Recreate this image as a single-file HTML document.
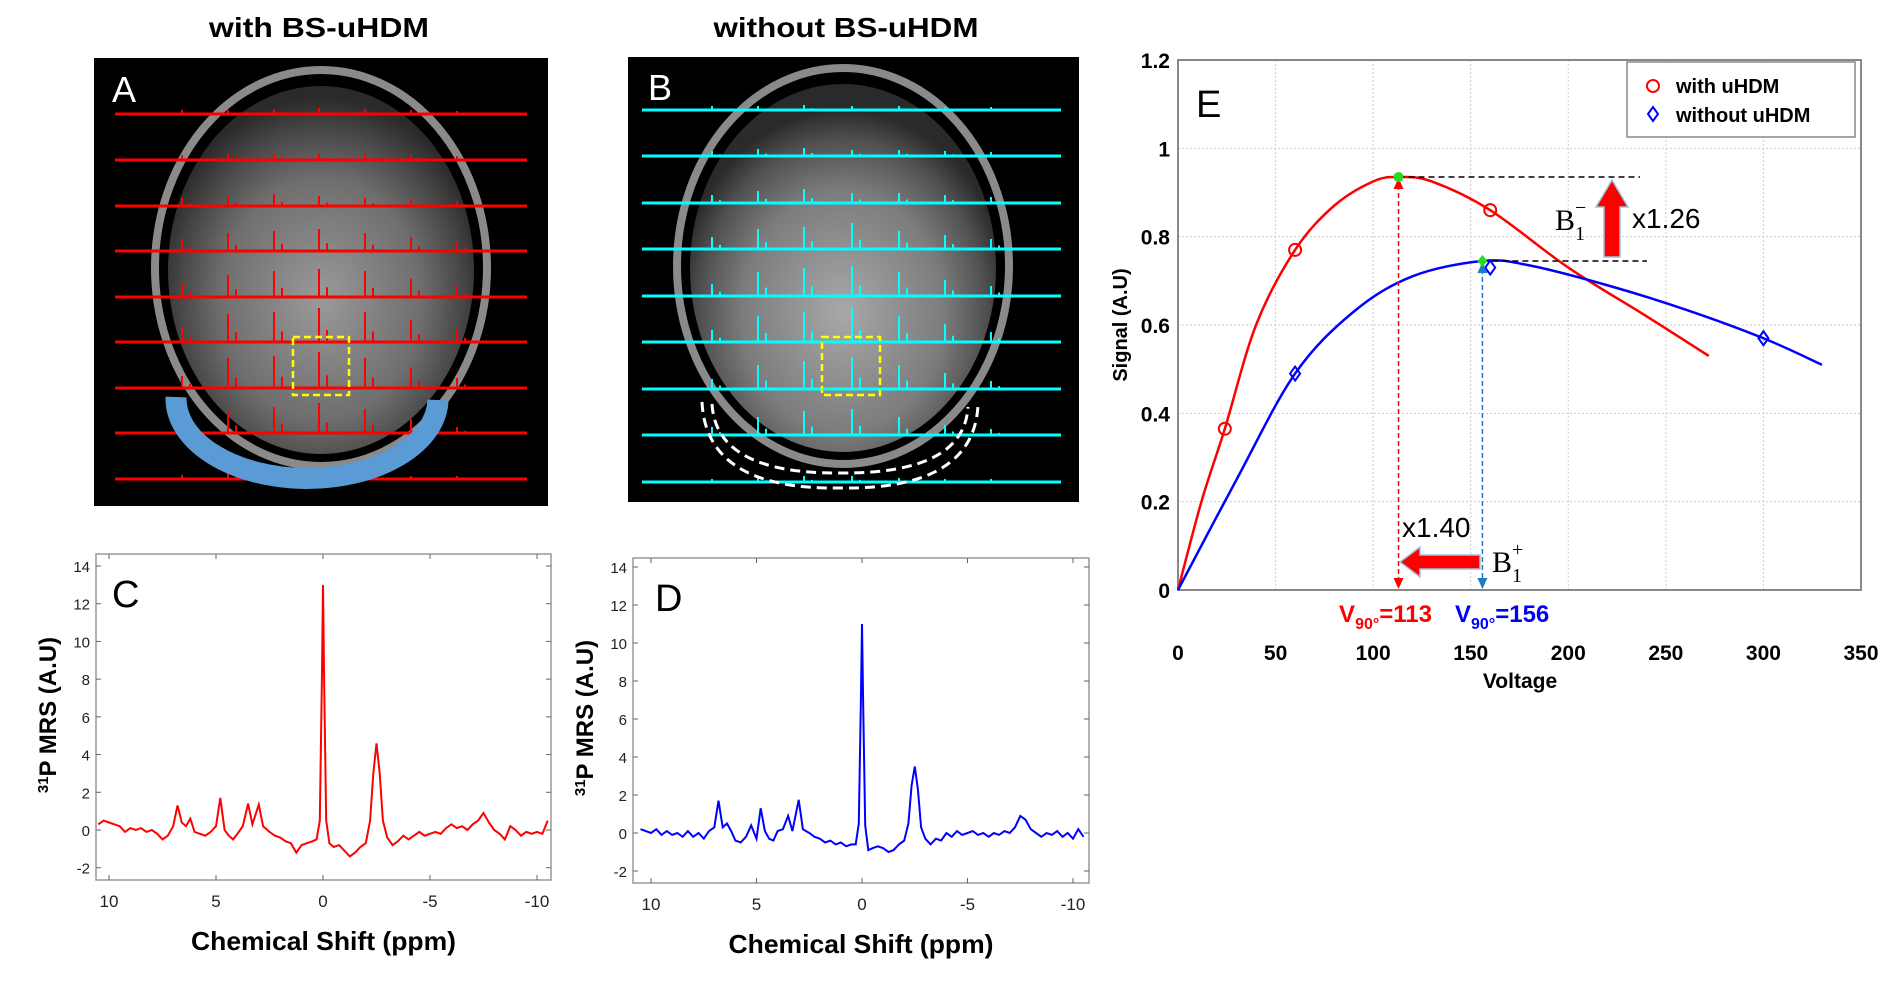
<!DOCTYPE html>
<html><head><meta charset="utf-8"><style>
html,body{margin:0;padding:0;background:#fff;width:1898px;height:1000px;overflow:hidden}
svg{display:block}
text{font-family:"Liberation Sans",sans-serif}
.nar{font-family:"Liberation Sans Narrow","Liberation Sans",sans-serif}
.serif{font-family:"Liberation Serif",serif}
</style></head><body>
<svg id="fig" width="1898" height="1000" viewBox="0 0 1898 1000" xmlns="http://www.w3.org/2000/svg">
<defs>
<radialGradient id="brainA" cx="50%" cy="58%" r="55%">
<stop offset="0" stop-color="#9a9a9a"/><stop offset="0.6" stop-color="#6e6e6e"/><stop offset="0.85" stop-color="#454545"/><stop offset="1" stop-color="#2a2a2a"/></radialGradient>
<radialGradient id="brainB" cx="50%" cy="62%" r="55%">
<stop offset="0" stop-color="#a8a8a8"/><stop offset="0.6" stop-color="#7c7c7c"/><stop offset="0.85" stop-color="#505050"/><stop offset="1" stop-color="#2a2a2a"/></radialGradient>
</defs>

<!-- Panel A -->
<text class="nar" x="319" y="37" text-anchor="middle" font-size="28" font-weight="bold" textLength="220" lengthAdjust="spacingAndGlyphs">with BS-uHDM</text>
<g>
<rect x="94" y="58" width="454" height="448" fill="#000"/>
<ellipse cx="321" cy="268" rx="166" ry="198" fill="none" stroke="#8a8a8a" stroke-width="8"/>
<ellipse cx="321" cy="270" rx="153" ry="184" fill="url(#brainA)"/>
<text x="112" y="102" font-size="36" fill="#fff" class="nar">A</text>
<g id="tracesA"></g>
<rect x="293" y="337" width="56" height="58" fill="none" stroke="#ffff00" stroke-width="2.5" stroke-dasharray="7,4"/>
<path d="M176 397 A131 80 0 0 0 438 400" fill="none" stroke="#5b9bd5" stroke-width="21"/>
</g>

<!-- Panel B -->
<text class="nar" x="846" y="37" text-anchor="middle" font-size="28" font-weight="bold" textLength="265" lengthAdjust="spacingAndGlyphs">without BS-uHDM</text>
<g>
<rect x="628" y="57" width="451" height="445" fill="#000"/>
<ellipse cx="843" cy="266" rx="166" ry="198" fill="none" stroke="#8a8a8a" stroke-width="8"/>
<ellipse cx="843" cy="268" rx="153" ry="184" fill="url(#brainB)"/>
<text x="648" y="100" font-size="36" fill="#fff" class="nar">B</text>
<g id="tracesB"></g>
<rect x="822" y="337" width="58" height="58" fill="none" stroke="#ffff00" stroke-width="2.5" stroke-dasharray="7,4"/>
<path d="M702 402 Q706 490 840 488 Q974 490 978 405" fill="none" stroke="#fff" stroke-width="3" stroke-dasharray="10,6"/>
<path d="M712 404 Q716 474 840 473 Q964 474 968 407" fill="none" stroke="#fff" stroke-width="3" stroke-dasharray="10,6"/>
</g>

<g id="panelC"></g>
<g id="panelD"></g>
<g id="panelE"></g>
</svg>
<script>
// ---------- data ----------
const spikeA=[[4,4,5,6,5,4,3],[5,6,7,6,6,5,4],[8,10,12,10,8,6,5],[12,18,20,22,18,14,10],[14,22,26,28,26,18,12],[14,28,30,34,30,22,12],[12,30,32,36,30,20,10],[8,22,26,30,24,14,6],[4,6,8,6,4,3,3]];
const spikeB=[[4,4,5,4,4,3,3],[5,7,8,6,6,5,4],[8,12,14,10,10,8,6],[12,20,22,26,18,14,10],[12,24,28,30,24,16,10],[12,26,30,34,26,18,10],[10,24,28,32,24,16,8],[8,18,24,26,18,10,6],[3,5,6,6,4,3,3]];

const ppmC=[10.5,10.25,10,9.75,9.5,9.25,9,8.75,8.5,8.25,8,7.75,7.5,7.25,7.0,6.8,6.6,6.4,6.2,6.0,5.75,5.5,5.25,5.0,4.8,4.6,4.4,4.2,4.0,3.75,3.5,3.3,3.0,2.8,2.5,2.25,2.0,1.75,1.5,1.25,1.0,0.75,0.5,0.3,0.15,0.05,0,-0.05,-0.15,-0.3,-0.5,-0.75,-1.0,-1.25,-1.5,-1.75,-2.0,-2.2,-2.35,-2.5,-2.65,-2.8,-3.0,-3.25,-3.5,-3.75,-4.0,-4.25,-4.5,-4.75,-5.0,-5.25,-5.5,-5.75,-6.0,-6.25,-6.5,-6.75,-7.0,-7.25,-7.5,-7.75,-8.0,-8.25,-8.5,-8.75,-9.0,-9.25,-9.5,-9.75,-10.0,-10.25,-10.5];
const sigC=[0.3,0.5,0.4,0.3,0.2,-0.1,0.1,0.0,0.1,-0.1,0.0,-0.2,-0.5,-0.3,0.2,1.3,0.4,0.2,0.6,-0.1,-0.2,-0.3,-0.1,0.2,1.7,0.0,-0.3,-0.5,-0.2,0.2,1.4,0.3,1.35,0.2,-0.1,-0.3,-0.4,-0.6,-0.7,-1.2,-0.8,-0.7,-0.6,-0.5,0.5,8,13,8,0.5,-0.7,-0.9,-0.8,-1.1,-1.4,-1.2,-0.9,-0.7,0.5,3,4.6,3,0.5,-0.4,-0.8,-0.6,-0.3,-0.5,-0.3,-0.1,-0.3,-0.2,-0.1,-0.2,0.1,0.3,0.1,0.2,0.0,0.3,0.5,0.9,0.4,0.0,-0.2,-0.5,0.2,0.0,-0.3,-0.1,-0.2,-0.1,-0.2,0.5];
const sigD=[0.2,0.1,0.0,0.2,-0.1,0.1,-0.1,0.0,-0.2,0.1,-0.2,0.0,-0.3,0.1,0.3,1.7,0.3,0.5,0.1,-0.4,-0.5,-0.2,0.4,-0.3,1.3,0.1,-0.3,-0.4,0.1,0.2,0.9,0.1,1.75,0.2,0.0,-0.2,-0.3,-0.5,-0.4,-0.6,-0.5,-0.7,-0.6,-0.6,0.5,7,11,7,0.4,-0.9,-0.8,-0.7,-0.8,-1.0,-0.9,-0.6,-0.4,0.5,2.5,3.5,2.3,0.3,-0.3,-0.6,-0.3,-0.4,0.0,-0.2,0.1,-0.1,0.0,0.1,-0.1,0.0,-0.2,0.0,-0.1,0.1,0.0,0.3,0.9,0.7,0.2,0.0,-0.2,0.0,-0.1,0.1,-0.2,0.0,-0.3,0.2,-0.2];
const specTicksX=[10,5,0,-5,-10];
const specTicksY=[-2,0,2,4,6,8,10,12,14];

const voltRedX=[0,12,24,40,60,80,100,113,130,160,200,240,272];
const voltRedY=[0,0.2,0.365,0.6,0.77,0.87,0.925,0.935,0.925,0.86,0.73,0.62,0.53];
const voltBlueX=[0,30,60,90,120,156,180,220,260,300,330];
const voltBlueY=[0,0.25,0.49,0.63,0.71,0.745,0.735,0.69,0.635,0.57,0.51];
const redMarkX=[24,60,160];
const redMarkY=[0.365,0.77,0.86];
const blueMarkX=[60,160,300];
const blueMarkY=[0.49,0.73,0.57];
const peakRed=[113,0.935];
const peakBlue=[156,0.745];
const eTicksX=[0,50,100,150,200,250,300,350];
const eTicksY=[0,0.2,0.4,0.6,0.8,1,1.2];

const NS='http://www.w3.org/2000/svg';
function mk(tag,attrs,parent){const e=document.createElementNS(NS,tag);for(const k in attrs)e.setAttribute(k,attrs[k]);parent.appendChild(e);return e;}

// ---------- traces on MR images ----------
function traces(g,spikes,x0,x1,rows,cols,color){
  rows.forEach((ry,ri)=>{
    const ln=mk('line',{x1:x0,x2:x1,y1:ry,y2:ry,stroke:color,'stroke-width':3},g);
    
    
    cols.forEach((cx,ci)=>{
      const h=spikes[ri][ci];
      const s=mk('line',{x1:cx,x2:cx,y1:ry,y2:ry-h,stroke:color,'stroke-width':2},g);
      
      
      const s2=mk('line',{x1:cx+8,x2:cx+8,y1:ry,y2:ry-h*0.35,stroke:color,'stroke-width':2},g);
      
      
    });
  });
}
traces(document.getElementById('tracesA'),spikeA,115,527,[114,160,206,251,297,342,388,433,479],[182,228,274,319,365,411,457],'#ff0000');
traces(document.getElementById('tracesB'),spikeB,642,1061,[110,156,203,249,296,342,389,435,482],[712,758,804,852,899,945,991],'#00ffff');

// ---------- spectra ----------
function spectrum(g,o,sig,color,label,name){
  const sx=v=>o.xz+(o.xm10-o.xz)*(-v)/10;
  const sy=v=>o.yz+(o.y14-o.yz)*v/14;
  const box=mk('rect',{x:o.L,y:o.T,width:o.R-o.L,height:o.B-o.T,fill:'#fff',stroke:'#999','stroke-width':1.5},g);
  
  
  specTicksX.forEach(t=>{
    const x=sx(t);
    mk('line',{x1:x,x2:x,y1:o.B,y2:o.B-5,stroke:'#666'},g);
    mk('line',{x1:x,x2:x,y1:o.T,y2:o.T+5,stroke:'#666'},g);
    const tx=mk('text',{x:x,y:o.B+27,'text-anchor':'middle','font-size':17,fill:'#222',class:'nar'},g);
    tx.textContent=String(t);
    
    
  });
  specTicksY.forEach(t=>{
    const y=sy(t);
    mk('line',{x1:o.L,x2:o.L+5,y1:y,y2:y,stroke:'#666'},g);
    mk('line',{x1:o.R,x2:o.R-5,y1:y,y2:y,stroke:'#666'},g);
    const tx=mk('text',{x:o.L-6,y:y+6,'text-anchor':'end','font-size':15,fill:'#222',class:'nar'},g);
    tx.textContent=String(t);
    
    
  });
  const pts=ppmC.map((p,i)=>sx(p).toFixed(1)+','+sy(sig[i]).toFixed(1)).join(' ');
  const pl=mk('polyline',{points:pts,fill:'none',stroke:color,'stroke-width':2},g);
  
  
  const lt=mk('text',{x:o.lx,y:o.ly,'font-size':38,fill:'#000',class:'nar'},g);
  lt.textContent=label;
  
  
  const xl=mk('text',{x:(o.L+o.R)/2,y:o.B+70,'text-anchor':'middle','font-size':26,'font-weight':'bold',class:'nar',textLength:265,lengthAdjust:'spacingAndGlyphs'},g);
  xl.textContent='Chemical Shift (ppm)';
  
  
  const yl=mk('text',{x:0,y:0,'text-anchor':'middle','font-size':24,'font-weight':'bold',transform:`translate(${o.L-40},${o.yz-115}) rotate(-90)`},g);
  yl.innerHTML='<tspan font-size="15" dy="-8">31</tspan><tspan dy="8">P MRS (A.U)</tspan>';
  
  
}
spectrum(document.getElementById('panelC'),{L:96,R:551,T:554,B:880,xz:323,xm10:537,yz:830,y14:566,lx:112,ly:607},sigC,'#ff0000','C','panel-c');
spectrum(document.getElementById('panelD'),{L:633,R:1089,T:558,B:883,xz:862,xm10:1073,yz:833,y14:567,lx:655,ly:611},sigD,'#0000ff','D','panel-d');

// ---------- panel E ----------
(function(){
  const g=document.getElementById('panelE');
  const L=1178,R=1861,T=60,B=590;
  const X=v=>L+(R-L)*v/350;
  const Y=v=>B-(B-T)*v/1.2;
  const bg=mk('rect',{x:L,y:T,width:R-L,height:B-T,fill:'#fff',stroke:'#888','stroke-width':2},g);
  
  
  eTicksX.forEach(t=>{
    const gl=mk('line',{x1:X(t),x2:X(t),y1:T,y2:B,stroke:'#ccc','stroke-dasharray':'2,2'},g);
    
    
    const tx=mk('text',{x:X(t),y:B+70,'text-anchor':'middle','font-size':21,'font-weight':'bold'},g);
    tx.textContent=String(t);
    
    
  });
  eTicksY.forEach(t=>{
    const gl=mk('line',{x1:L,x2:R,y1:Y(t),y2:Y(t),stroke:'#ccc','stroke-dasharray':'2,2'},g);
    
    
    const tx=mk('text',{x:L-8,y:Y(t)+8,'text-anchor':'end','font-size':21,'font-weight':'bold'},g);
    tx.textContent=String(t);
    
    
  });
  mk('rect',{x:L,y:T,width:R-L,height:B-T,fill:'none',stroke:'#888','stroke-width':2},g);
  function smooth(xs,ys){
    const p=xs.map((x,i)=>[X(x),Y(ys[i])]);
    let d='M'+p[0][0]+' '+p[0][1];
    for(let i=0;i<p.length-1;i++){
      const p0=p[Math.max(0,i-1)],p1=p[i],p2=p[i+1],p3=p[Math.min(p.length-1,i+2)];
      d+=` C${p1[0]+(p2[0]-p0[0])/6} ${p1[1]+(p2[1]-p0[1])/6} ${p2[0]-(p3[0]-p1[0])/6} ${p2[1]-(p3[1]-p1[1])/6} ${p2[0]} ${p2[1]}`;
    }
    return d;
  }
  const rc=mk('path',{d:smooth(voltRedX,voltRedY),fill:'none',stroke:'#ff0000','stroke-width':2.5},g);
  
  
  const bc=mk('path',{d:smooth(voltBlueX,voltBlueY),fill:'none',stroke:'#0000ff','stroke-width':2.5},g);
  
  
  redMarkX.forEach((x,i)=>{
    const c=mk('circle',{cx:X(x),cy:Y(redMarkY[i]),r:6,fill:'none',stroke:'#ff0000','stroke-width':2},g);
    
    
  });
  blueMarkX.forEach((x,i)=>{
    const cx=X(x),cy=Y(blueMarkY[i]);
    const c=mk('path',{d:`M${cx} ${cy-7} L${cx+5} ${cy} L${cx} ${cy+7} L${cx-5} ${cy} Z`,fill:'none',stroke:'#0000ff','stroke-width':2},g);
    
    
  });
  const h1=mk('line',{x1:X(peakRed[0]),x2:1640,y1:Y(peakRed[1]),y2:Y(peakRed[1]),stroke:'#000','stroke-width':1.5,'stroke-dasharray':'6,4'},g);
  
  
  const h2=mk('line',{x1:X(peakBlue[0]),x2:1647,y1:Y(peakBlue[1]),y2:Y(peakBlue[1]),stroke:'#000','stroke-width':1.5,'stroke-dasharray':'6,4'},g);
  
  
  function vArrow(x,ytop,col,name){
    const l=mk('line',{x1:x,x2:x,y1:ytop+8,y2:B-8,stroke:col,'stroke-width':1.5,'stroke-dasharray':'5,3'},g);
    
    
    mk('path',{d:`M${x-5} ${ytop+12} L${x} ${ytop+1} L${x+5} ${ytop+12}Z`,fill:col},g);
    mk('path',{d:`M${x-5} ${B-12} L${x} ${B-1} L${x+5} ${B-12}Z`,fill:col},g);
  }
  vArrow(X(peakRed[0]),Y(peakRed[1]),'#ff0000','v90-marker-red');
  vArrow(X(peakBlue[0]),Y(peakBlue[1]),'#1f7ac8','v90-marker-blue');
  const pr=mk('circle',{cx:X(peakRed[0]),cy:Y(peakRed[1]),r:5,fill:'#22dd22'},g);
  
  
  const pbx=X(peakBlue[0]),pby=Y(peakBlue[1]);
  const pb=mk('path',{d:`M${pbx} ${pby-6} L${pbx+5} ${pby} L${pbx} ${pby+6} L${pbx-5} ${pby}Z`,fill:'#22dd22'},g);
  
  
  const ua=mk('path',{d:'M1604 257 L1604 207 L1596 207 L1612 180 L1628 207 L1620 207 L1620 257 Z',fill:'#ff0000',stroke:'#9dc3e6','stroke-width':1.5},g);
  
  
  const la=mk('path',{d:'M1480 555 L1420 555 L1420 547 L1400 562 L1420 577 L1420 569 L1480 569 Z',fill:'#ff0000',stroke:'#9dc3e6','stroke-width':1.5},g);
  
  
  const t1=mk('text',{x:1555,y:230,'font-size':30,class:'serif'},g);
  t1.innerHTML='B<tspan font-size="20" dy="10">1</tspan><tspan font-size="20" dx="-10" dy="-26">−</tspan>';
  
  
  const t2=mk('text',{x:1632,y:228,'font-size':28},g);
  t2.textContent='x1.26';
  
  
  const t3=mk('text',{x:1402,y:537,'font-size':28},g);
  t3.textContent='x1.40';
  
  
  const t4=mk('text',{x:1492,y:572,'font-size':30,class:'serif'},g);
  t4.innerHTML='B<tspan font-size="20" dy="10">1</tspan><tspan font-size="20" dx="-10" dy="-26">+</tspan>';
  
  
  const v1=mk('text',{x:1432,y:622,'text-anchor':'end','font-size':24,'font-weight':'bold',fill:'#ff0000',class:'nar'},g);
  v1.innerHTML='V<tspan font-size="16" dy="7">90°</tspan><tspan dy="-7">=113</tspan>';
  
  
  const v2=mk('text',{x:1455,y:622,'font-size':24,'font-weight':'bold',fill:'#0000ff',class:'nar'},g);
  v2.innerHTML='V<tspan font-size="16" dy="7">90°</tspan><tspan dy="-7">=156</tspan>';
  
  
  const e=mk('text',{x:1196,y:117,'font-size':38},g);
  e.textContent='E';
  
  
  const xt=mk('text',{x:1520,y:688,'text-anchor':'middle','font-size':21,'font-weight':'bold'},g);
  xt.textContent='Voltage';
  
  
  const yt=mk('text',{x:0,y:0,'text-anchor':'middle','font-size':20,'font-weight':'bold',transform:'translate(1127,325) rotate(-90)'},g);
  yt.textContent='Signal (A.U)';
  
  
  const lg=mk('g',{},g);
  
  
  mk('rect',{x:1627,y:62,width:228,height:75,fill:'#fff',stroke:'#888','stroke-width':1.5},lg);
  mk('circle',{cx:1653,cy:86,r:6,fill:'none',stroke:'#ff0000','stroke-width':2},lg);
  mk('path',{d:'M1653 107 L1658 114 L1653 121 L1648 114Z',fill:'none',stroke:'#0000ff','stroke-width':2},lg);
  const l1=mk('text',{x:1676,y:93,'font-size':20,'font-weight':'bold'},lg);
  l1.textContent='with uHDM';
  
  
  const l2=mk('text',{x:1676,y:122,'font-size':20,'font-weight':'bold'},lg);
  l2.textContent='without uHDM';
  
  
})();
</script>
</body></html>
